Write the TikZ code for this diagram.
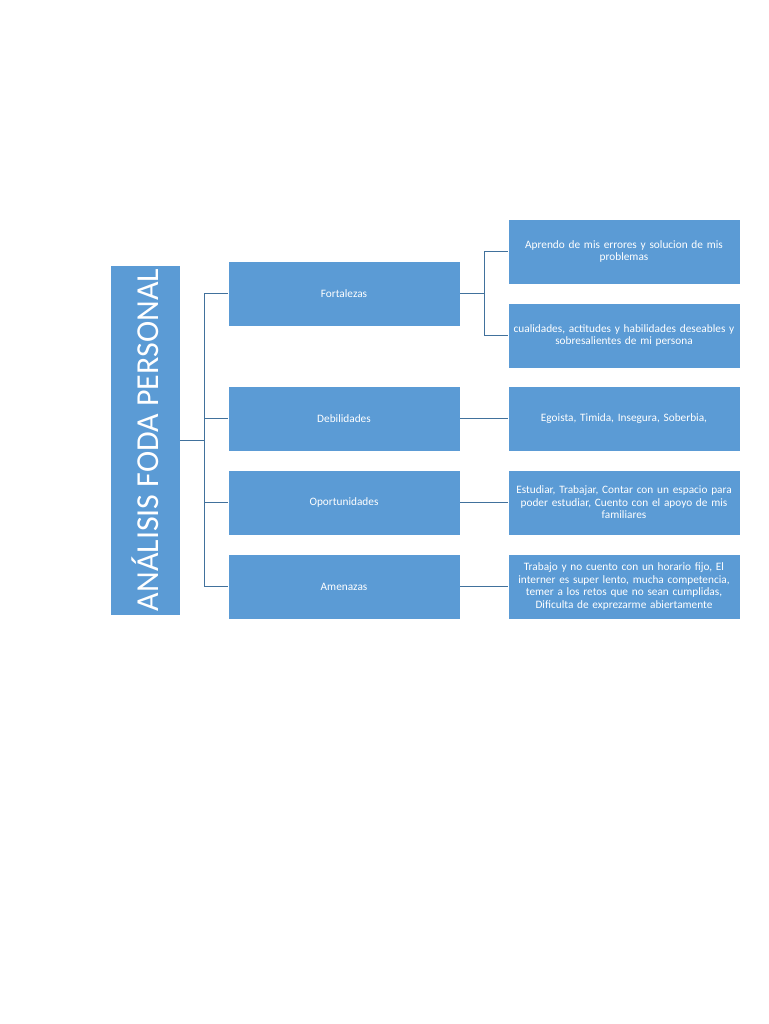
\documentclass[tikz,border=0pt]{standalone}
\usepackage{fontspec}
\setmainfont{Carlito}
\begin{document}
\begin{tikzpicture}[x=1pt,y=-1pt,
  box/.style={rectangle, fill=boxblue, draw=white, line width=0.6pt, minimum width=232pt, minimum height=65pt, text=white, font=\fontsize{11.3}{12.4}\selectfont, align=center, text width=228pt, inner sep=1pt},
  conn/.style={draw=lineblue, line width=1pt}]
\definecolor{boxblue}{HTML}{5B9BD5}
\definecolor{lineblue}{HTML}{41719C}
\useasboundingbox (0,0) rectangle (768,1024);
\node[rectangle, fill=boxblue, draw=white, line width=0.6pt, minimum width=350pt, minimum height=70pt, rotate=90, text=white, font=\fontsize{32}{34}\selectfont] (title) at (145,440) {ANÁLISIS FODA PERSONAL};
\node[box] (fort) at (344,293.5) {Fortalezas};
\node[box] (deb) at (344,418.5) {Debilidades};
\node[box] (opo) at (344,502.5) {Oportunidades};
\node[box] (ame) at (344,586.5) {Amenazas};
\node[box] (s1) at (624,251.5) {Aprendo de mis errores y solucion de mis\\problemas};
\node[box] (s2) at (624,335.5) {cualidades, actitudes y habilidades deseables y\\sobresalientes de mi persona};
\node[box] (s3) at (624,418.5) {Egoista, Timida, Insegura, Soberbia,};
\node[box] (s4) at (624,502.5) {Estudiar, Trabajar, Contar con un espacio para\\poder estudiar, Cuento con el apoyo de mis\\familiares};
\node[box] (s5) at (624,586.5) {Trabajo y no cuento con un horario fijo, El\\interner es super lento, mucha competencia,\\temer a los retos que no sean cumplidas,\\Dificulta de exprezarme abiertamente};
\coordinate (j) at (204,440);
\coordinate (k) at (484,293.5);
\draw[conn] (title.south |- j) -- (j);
\draw[conn] (j) |- (fort.west);
\draw[conn] (j) |- (deb.west);
\draw[conn] (j) |- (opo.west);
\draw[conn] (j) |- (ame.west);
\draw[conn] (fort.east) -- (k);
\draw[conn] (k) |- (s1.west);
\draw[conn] (k) |- (s2.west);
\draw[conn] (deb.east) -- (s3.west);
\draw[conn] (opo.east) -- (s4.west);
\draw[conn] (ame.east) -- (s5.west);
\end{tikzpicture}
\end{document}
